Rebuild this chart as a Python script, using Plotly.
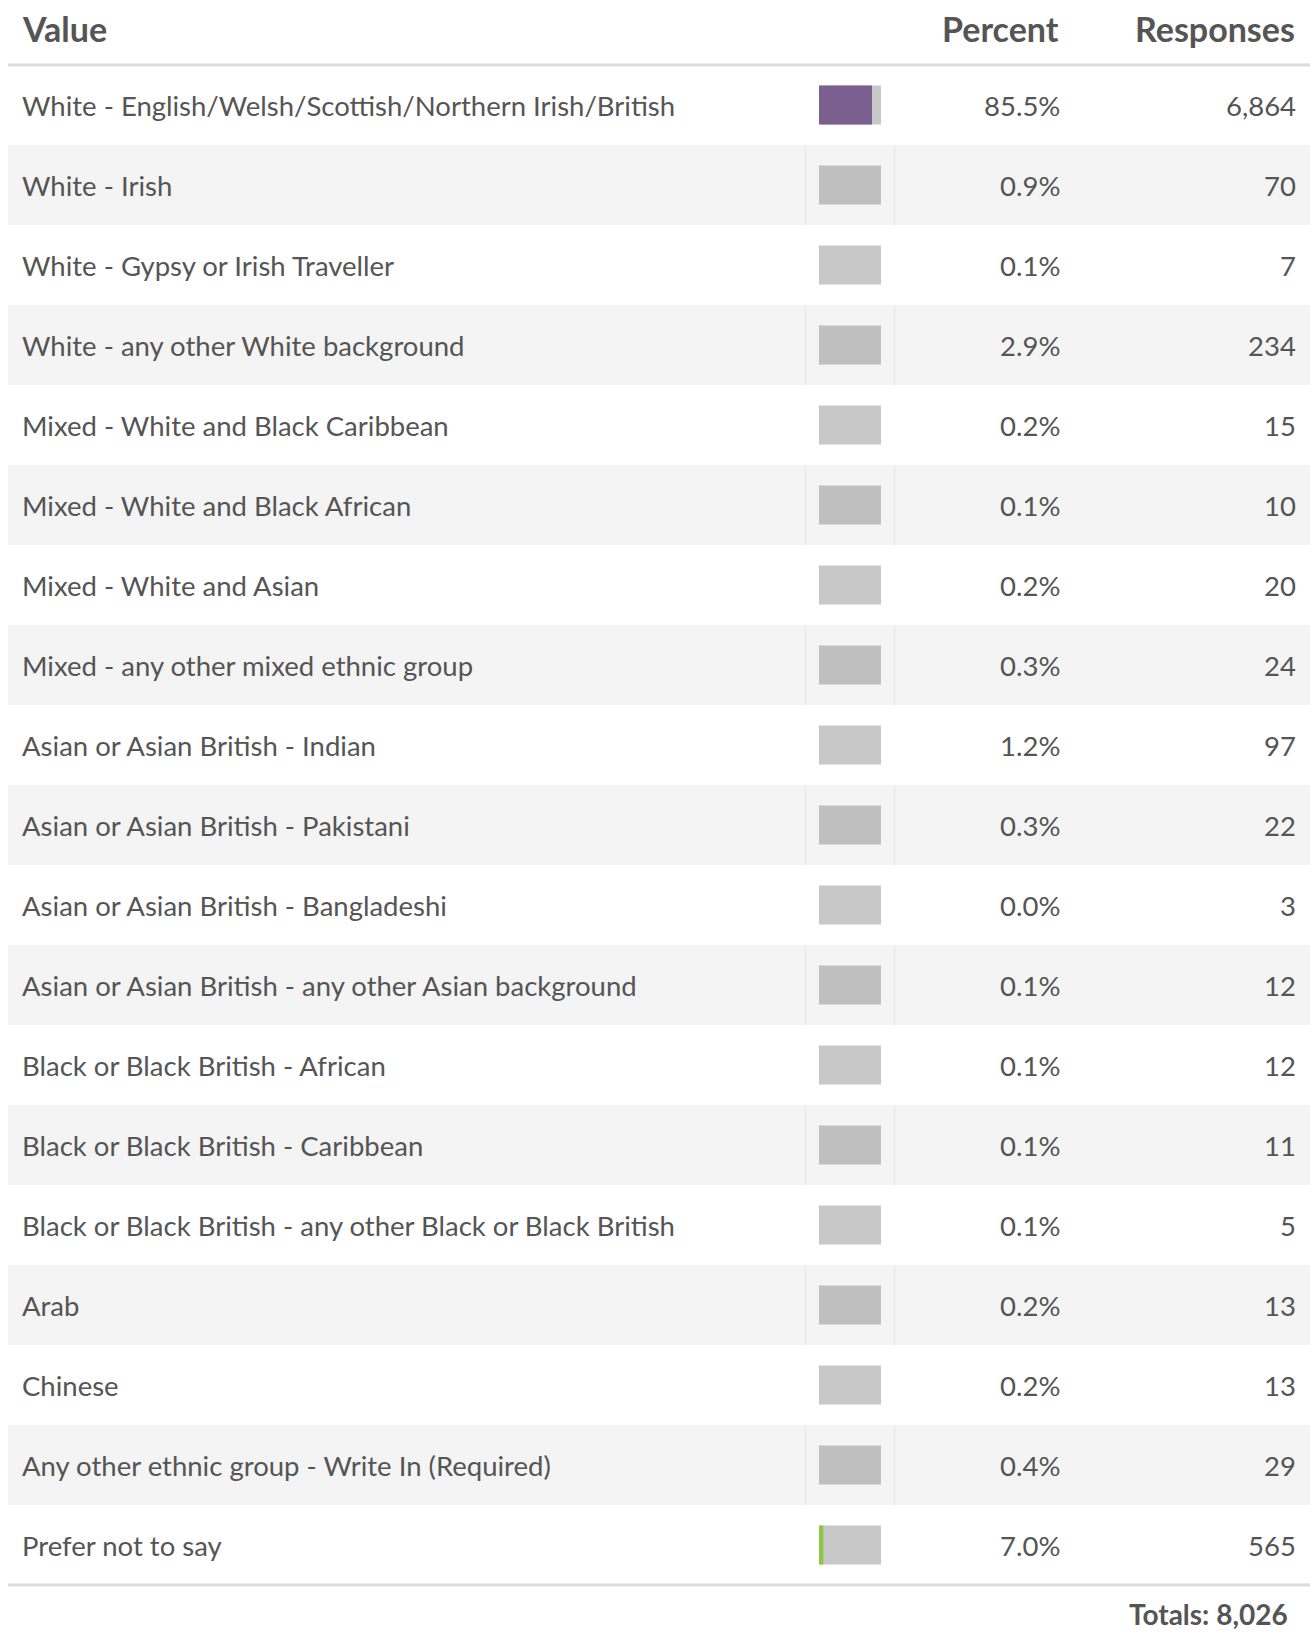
import plotly.graph_objects as go

categories = [
    "White - English/Welsh/Scottish/Northern Irish/British",
    "White - Irish",
    "White - Gypsy or Irish Traveller",
    "White - any other White background",
    "Mixed - White and Black Caribbean",
    "Mixed - White and Black African",
    "Mixed - White and Asian",
    "Mixed - any other mixed ethnic group",
    "Asian or Asian British - Indian",
    "Asian or Asian British - Pakistani",
    "Asian or Asian British - Bangladeshi",
    "Asian or Asian British - any other Asian background",
    "Black or Black British - African",
    "Black or Black British - Caribbean",
    "Black or Black British - any other Black or Black British",
    "Arab",
    "Chinese",
    "Any other ethnic group - Write In (Required)",
    "Prefer not to say",
]
percents = [85.5, 0.9, 0.1, 2.9, 0.2, 0.1, 0.2, 0.3, 1.2, 0.3, 0.0, 0.1, 0.1, 0.1, 0.1, 0.2, 0.2, 0.4, 7.0]
responses = [6864, 70, 7, 234, 15, 10, 20, 24, 97, 22, 3, 12, 12, 11, 5, 13, 13, 29, 565]
highlight = {0: "#7b5f8e", 18: "#8dc63f"}
total = 8026
headers = ["Value", "Percent", "Responses"]

W, H = 1310, 1633
TOP, ROWH = 65, 80
n = len(categories)
TXT = "#555555"
FONT = "Lato"

def py(px):
    return (px - TOP) / ROWH - 0.5

idx = list(range(n))
bg_cols = ["#bfbfbf" if i % 2 else "#c8c8c8" for i in idx]
fg_cols = [highlight.get(i, bg_cols[i]) for i in idx]

fig = go.Figure()
fig.add_trace(go.Bar(x=[100] * n, y=idx, orientation="h", width=39 / ROWH,
                     marker=dict(color=bg_cols, line=dict(width=0)), hoverinfo="skip"))
fig.add_trace(go.Bar(x=percents, y=idx, orientation="h", width=39 / ROWH,
                     marker=dict(color=fg_cols, line=dict(width=0)), hoverinfo="skip"))

shapes = []
for i in idx:
    if i % 2:
        shapes.append(dict(type="rect", xref="paper", yref="y", x0=8 / W, x1=1, y0=i - 0.5, y1=i + 0.5,
                           fillcolor="#f4f4f4", line=dict(width=0), layer="below"))
        for xv in (805.5, 894.5):
            shapes.append(dict(type="line", xref="paper", yref="y", x0=xv / W, x1=xv / W,
                               y0=i - 0.5, y1=i + 0.5, line=dict(color="#e6e6e6", width=1), layer="below"))
for yv in (-0.5, n - 0.5):
    shapes.append(dict(type="line", xref="paper", yref="y", x0=8 / W, x1=1, y0=yv, y1=yv,
                       line=dict(color="#dcdcdc", width=3), layer="below"))

ann = []
hy = py(28)
HF = dict(size=34, color=TXT, family=FONT, weight="bold")
ann.append(dict(x=20 / W, y=hy, text=headers[0], xanchor="left", font=HF))
ann.append(dict(x=1061 / W, y=hy, text=headers[1], xanchor="right", font=HF))
ann.append(dict(x=1297 / W, y=hy, text=headers[2], xanchor="right", font=HF))
for i in idx:
    ann.append(dict(x=20 / W, y=i, text=categories[i], xanchor="left",
                    font=dict(size=27.5, color=TXT, family=FONT)))
    ann.append(dict(x=1062 / W, y=i, text=f"{percents[i]:.1f}%", xanchor="right",
                    font=dict(size=27.5, color=TXT, family=FONT)))
    ann.append(dict(x=1298 / W, y=i, text=f"{responses[i]:,}", xanchor="right",
                    font=dict(size=27.5, color=TXT, family=FONT)))
ann.append(dict(x=1290 / W, y=py(1614), text=f"Totals: {total:,}", xanchor="right",
                font=dict(size=28, color=TXT, family=FONT, weight="bold")))
for a in ann:
    a.update(xref="paper", yref="y", showarrow=False, yanchor="middle")

fig.update_layout(
    width=W, height=H, margin=dict(l=0, r=0, t=0, b=0),
    paper_bgcolor="white", plot_bgcolor="rgba(0,0,0,0)",
    barmode="overlay", showlegend=False,
    xaxis=dict(domain=[819 / W, 881 / W], range=[0, 100], visible=False, fixedrange=True),
    yaxis=dict(range=[py(H), py(0)], visible=False, fixedrange=True),
    shapes=shapes, annotations=ann,
)
fig.write_html("out.html", config={"displayModeBar": False},
               post_script="document.body.style.margin='0';document.body.style.overflow='hidden';")
